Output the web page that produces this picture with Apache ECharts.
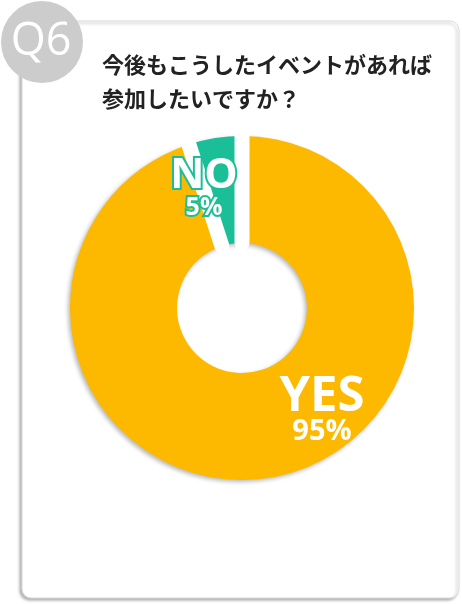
<!DOCTYPE html>
<html>
<head>
<meta charset="utf-8">
<script src="https://cdn.jsdelivr.net/npm/echarts@6/dist/echarts.min.js"></script>
<style>
html,body{margin:0;padding:0;background:#fff;}
#chart{width:462px;height:604px;}
</style>
</head>
<body>
<div id="chart"></div>
<script>
const questionBadge = 'Q6';
const questionText = '今後もこうしたイベントがあれば\n参加したいですか？';
const categories = ['YES', 'NO'];
const values = [95, 5];
const sliceColors = ['#FDB900', '#1BBF97'];

const chart = echarts.init(document.getElementById('chart'), null, {renderer: 'canvas'});

const labelRich = [
  {
    a: {fontFamily: 'Open Sans', fontWeight: 'bold', fontSize: 49, color: '#fff', lineHeight: 40},
    b: {fontFamily: 'Open Sans', fontWeight: 'bold', fontSize: 29, color: '#fff', lineHeight: 30}
  },
  {
    a: {fontFamily: 'Open Sans', fontWeight: 'bold', fontSize: 42, color: '#fff', lineHeight: 34,
        textBorderColor: sliceColors[1], textBorderWidth: 4},
    b: {fontFamily: 'Open Sans', fontWeight: 'bold', fontSize: 25, color: '#fff', lineHeight: 30,
        textBorderColor: sliceColors[1], textBorderWidth: 4}
  }
];
const labelPos = [
  {x: 322, y: 412},
  {x: 204, y: 191}
];

const ringRadius = [65, 172];

// coloured ring (with soft drop shadow)
const colorData = categories.map((c, i) => ({
  name: c, value: values[i], itemStyle: {color: sliceColors[i]}
}));

// overlay: white separators at slice boundaries + labels
const overlayData = [];
categories.forEach((c, i) => {
  overlayData.push({
    name: 'sep' + i, value: 1e-6,
    itemStyle: {color: '#fff', borderColor: '#fff', borderWidth: 15, borderJoin: 'round'},
    label: {show: false}
  });
  overlayData.push({
    name: c, value: values[i],
    itemStyle: {color: 'rgba(0,0,0,0)', borderWidth: 0},
    label: {
      show: true, position: 'inside',
      formatter: '{a|' + c + '}\n{b|' + values[i] + '%}',
      rich: labelRich[i]
    }
  });
});

chart.setOption({
  animation: false,
  graphic: [
    {
      type: 'rect', z: 0,
      shape: {x: 22, y: 21, width: 437, height: 577, r: 9},
      style: {fill: '#fff', stroke: '#dcdcdc', lineWidth: 1,
              shadowBlur: 3, shadowOffsetX: -2, shadowOffsetY: 2, shadowColor: 'rgba(0,0,0,0.3)'}
    },
    {
      type: 'circle', z: 10,
      shape: {cx: 42, cy: 42, r: 41},
      style: {fill: '#cccccc'}
    },
    {
      type: 'text', z: 11,
      x: 41, y: 42,
      style: {text: questionBadge, fill: '#fff', fontFamily: 'Open Sans', fontWeight: 'normal',
              fontSize: 45, align: 'center', verticalAlign: 'middle'}
    }
  ],
  title: {
    text: questionText,
    left: 97, top: 43,
    textStyle: {fontFamily: 'Noto Sans CJK JP', fontWeight: 'bold', fontSize: 22,
                lineHeight: 34, color: '#222'}
  },
  series: [
    {
      type: 'pie', z: 2,
      center: [242, 308],
      radius: ringRadius,
      startAngle: 90, clockwise: true,
      silent: true,
      itemStyle: {
        borderWidth: 0,
        shadowBlur: 4, shadowOffsetX: -2, shadowOffsetY: 2, shadowColor: 'rgba(0,0,0,0.28)'
      },
      label: {show: false}, labelLine: {show: false},
      emphasis: {disabled: true},
      data: colorData
    },
    {
      type: 'pie', z: 3,
      center: [242, 308],
      radius: ringRadius,
      startAngle: 90, clockwise: true,
      silent: true,
      minAngle: 0,
      avoidLabelOverlap: false,
      labelLine: {show: false},
      labelLayout: function (p) {
        const pos = labelPos[(p.dataIndex - 1) / 2];
        return pos ? {x: pos.x, y: pos.y, align: 'center', verticalAlign: 'middle'} : {};
      },
      emphasis: {disabled: true},
      data: overlayData
    }
  ]
});
</script>
</body>
</html>
